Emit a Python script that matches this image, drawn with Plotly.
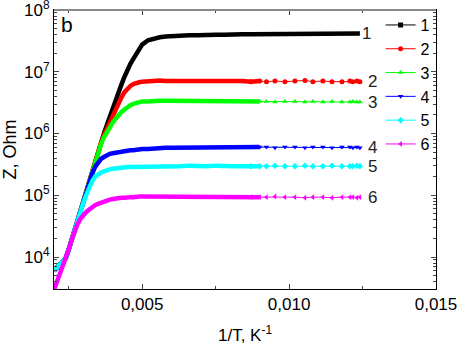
import numpy as np
import plotly.graph_objects as go

# 1/T values (K^-1), shared by all series
inv_T = [0.0020, 0.0021, 0.0022, 0.0023, 0.0024, 0.0025, 0.0026, 0.0027, 0.0028, 0.0029,
         0.0030, 0.0031, 0.0032, 0.0033, 0.0034, 0.0035, 0.0036, 0.0037, 0.0038, 0.0039,
         0.0040, 0.0041, 0.0042, 0.0043, 0.0044, 0.0045, 0.0046, 0.0047, 0.0048, 0.0049,
         0.0050, 0.0052, 0.0054, 0.0056, 0.0058, 0.0060,
         0.0063, 0.0066, 0.0069, 0.0072, 0.0075, 0.0078, 0.0081, 0.0084, 0.0087, 0.0090,
         0.00923, 0.00952, 0.00986, 0.0102, 0.01054, 0.01081, 0.01115, 0.01146, 0.0118,
         0.01207, 0.01217, 0.01231, 0.01241]

z1 = [6.03e3, 6.92e3, 7.59e3, 8.51e3, 9.55e3, 1.32e4, 1.91e4, 2.75e4, 3.98e4, 5.75e4,
      8.51e4, 1.23e5, 1.78e5, 2.57e5, 3.72e5, 5.25e5, 7.24e5, 1.0e6, 1.38e6, 1.91e6,
      2.63e6, 3.55e6, 4.68e6, 6.31e6, 8.32e6, 1.10e7, 1.35e7, 1.62e7, 1.95e7, 2.34e7,
      2.75e7, 3.24e7, 3.47e7, 3.63e7, 3.72e7, 3.80e7,
      3.80e7, 3.89e7, 3.89e7, 3.98e7, 3.98e7, 3.98e7, 4.07e7, 4.07e7, 4.07e7, 4.07e7,
      4.07e7, 4.12e7, 4.07e7, 4.10e7, 4.15e7, 4.12e7, 4.17e7, 4.15e7, 4.17e7,
      4.17e7, 4.20e7, 4.17e7, 4.17e7]

z2 = [6.03e3, 6.92e3, 7.59e3, 8.51e3, 9.55e3, 1.32e4, 1.91e4, 2.75e4, 3.98e4, 5.75e4,
      8.51e4, 1.23e5, 1.78e5, 2.57e5, 3.72e5, 5.25e5, 7.08e5, 9.33e5, 1.20e6, 1.55e6,
      1.95e6, 2.45e6, 3.16e6, 3.89e6, 4.68e6, 5.37e6, 5.89e6, 6.31e6, 6.61e6, 6.76e6,
      6.92e6, 7.08e6, 7.08e6, 7.24e6, 7.08e6, 7.08e6,
      7.08e6, 7.24e6, 7.08e6, 7.08e6, 7.24e6, 7.08e6, 7.08e6, 7.08e6, 6.92e6, 7.08e6,
      6.92e6, 7.08e6, 6.92e6, 7.08e6, 7.24e6, 6.92e6, 7.08e6, 6.92e6, 6.92e6,
      7.08e6, 6.92e6, 7.08e6, 6.92e6]

z3 = [6.03e3, 6.92e3, 7.59e3, 8.51e3, 9.55e3, 1.32e4, 1.91e4, 2.75e4, 3.98e4, 5.75e4,
      8.51e4, 1.23e5, 1.78e5, 2.57e5, 3.72e5, 5.25e5, 6.76e5, 8.71e5, 1.07e6, 1.29e6,
      1.51e6, 1.74e6, 2.00e6, 2.24e6, 2.45e6, 2.69e6, 2.88e6, 3.02e6, 3.16e6, 3.24e6,
      3.31e6, 3.31e6, 3.39e6, 3.39e6, 3.39e6, 3.39e6,
      3.39e6, 3.39e6, 3.31e6, 3.39e6, 3.39e6, 3.31e6, 3.31e6, 3.39e6, 3.31e6, 3.31e6,
      3.31e6, 3.24e6, 3.31e6, 3.31e6, 3.24e6, 3.31e6, 3.24e6, 3.31e6, 3.24e6,
      3.24e6, 3.31e6, 3.24e6, 3.24e6]

z4 = [6.03e3, 6.92e3, 7.59e3, 8.51e3, 9.55e3, 1.32e4, 1.91e4, 2.75e4, 3.98e4, 5.75e4,
      8.51e4, 1.20e5, 1.66e5, 2.24e5, 2.88e5, 3.47e5, 3.89e5, 4.17e5, 4.47e5, 4.68e5,
      4.79e5, 4.90e5, 5.01e5, 5.13e5, 5.25e5, 5.25e5, 5.37e5, 5.37e5, 5.50e5, 5.50e5,
      5.62e5, 5.62e5, 5.75e5, 5.75e5, 5.89e5, 5.89e5,
      5.89e5, 6.03e5, 6.03e5, 6.03e5, 6.03e5, 6.03e5, 6.03e5, 6.03e5, 6.03e5, 6.03e5,
      6.03e5, 5.89e5, 6.03e5, 6.03e5, 5.89e5, 6.03e5, 6.03e5, 5.89e5, 6.03e5,
      6.03e5, 5.89e5, 6.03e5, 5.89e5]

z5 = [6.03e3, 6.92e3, 7.59e3, 8.51e3, 9.55e3, 1.32e4, 1.91e4, 2.75e4, 3.89e4, 5.50e4,
      7.59e4, 1.02e5, 1.35e5, 1.70e5, 2.00e5, 2.19e5, 2.34e5, 2.45e5, 2.57e5, 2.63e5,
      2.69e5, 2.75e5, 2.75e5, 2.82e5, 2.82e5, 2.88e5, 2.88e5, 2.88e5, 2.95e5, 2.95e5,
      2.95e5, 2.95e5, 2.95e5, 2.95e5, 2.95e5, 2.95e5,
      2.95e5, 3.02e5, 2.95e5, 2.95e5, 3.02e5, 2.95e5, 2.95e5, 2.95e5, 2.95e5, 2.95e5,
      2.95e5, 3.02e5, 2.95e5, 2.95e5, 3.02e5, 2.95e5, 2.95e5, 3.02e5, 2.95e5,
      2.95e5, 2.95e5, 3.02e5, 2.95e5]

z6 = [2.95e3, 3.98e3, 5.25e3, 6.76e3, 8.91e3, 1.32e4, 1.91e4, 2.63e4, 3.39e4, 4.17e4,
      4.79e4, 5.37e4, 5.89e4, 6.46e4, 6.92e4, 7.24e4, 7.59e4, 7.94e4, 8.32e4, 8.51e4,
      8.71e4, 8.91e4, 8.91e4, 9.12e4, 9.12e4, 9.33e4, 9.33e4, 9.33e4, 9.55e4, 9.55e4,
      9.55e4, 9.55e4, 9.55e4, 9.55e4, 9.55e4, 9.55e4,
      9.55e4, 9.55e4, 9.33e4, 9.33e4, 9.33e4, 9.33e4, 9.33e4, 9.33e4, 9.33e4, 9.33e4,
      9.33e4, 9.55e4, 9.33e4, 9.33e4, 9.12e4, 9.33e4, 9.33e4, 9.12e4, 9.33e4,
      9.33e4, 9.33e4, 9.12e4, 9.33e4]

names = ["1", "2", "3", "4", "5", "6"]
series = [z1, z2, z3, z4, z5, z6]
colors = ["#000000", "#FF0000", "#00FF00", "#0000FF", "#00FFFF", "#FF00FF"]
symbols = ["square", "circle", "triangle-up", "triangle-down", "diamond", "triangle-left"]

x_ticks = [0.005, 0.010, 0.015]
x_ticktext = ["0,005", "0,010", "0,015"]
y_ticks = [1e4, 1e5, 1e6, 1e7, 1e8]
y_ticktext = ["10<sup>4</sup>", "10<sup>5</sup>", "10<sup>6</sup>", "10<sup>7</sup>", "10<sup>8</sup>"]

FONT = "Liberation Sans, Arial, sans-serif"
DENSE_END = 46   # points drawn as a thick (dense) band
TAIL_START = 44  # points drawn with separate markers

fig = go.Figure()
for name, z, c, s in zip(names, series, colors, symbols):
    black = name == "1"
    end = len(inv_T) if black else DENSE_END
    fig.add_trace(go.Scatter(x=inv_T[:end], y=z[:end], mode="lines",
                             line=dict(color=c, width=4.5), showlegend=False,
                             hoverinfo="skip"))
    if black:
        fig.add_trace(go.Scatter(x=[None], y=[None], mode="lines+markers",
                                 line=dict(color=c, width=1),
                                 marker=dict(symbol=s, size=5, color=c), name=name))
    else:
        fig.add_trace(go.Scatter(x=inv_T[TAIL_START:], y=z[TAIL_START:], mode="lines+markers",
                                 line=dict(color=c, width=1),
                                 marker=dict(symbol=s, size=5, color=c),
                                 name=name))

# end labels
for name, z in zip(names, series):
    xl = inv_T[-1] + (0.00002 if name == "1" else 0.00022)
    fig.add_annotation(x=xl, y=np.log10(z[-1]), text=name, showarrow=False,
                       xanchor="left", yanchor="middle", font=dict(size=17, color="#222"))

fig.add_annotation(x=0.012, y=0.995, xref="paper", yref="paper", text="b", showarrow=False,
                   xanchor="left", yanchor="top", font=dict(size=21, color="black"))

fig.add_shape(type="line", xref="paper", yref="paper", x0=0, x1=1, y0=1, y1=1,
              line=dict(color="#888888", width=2))

fig.update_layout(
    width=458, height=345,
    margin=dict(l=54, r=22, t=10, b=56, autoexpand=False),
    paper_bgcolor="white", plot_bgcolor="white",
    font=dict(family=FONT, size=17, color="black"),
    legend=dict(x=0.855, y=1.007, xanchor="left", yanchor="top",
                bgcolor="rgba(0,0,0,0)", font=dict(size=16), tracegroupgap=0),
    showlegend=True,
)
fig.update_xaxes(range=[0.002, 0.015], tickvals=x_ticks, ticktext=x_ticktext,
                 ticks="inside", ticklen=5, showline=True, linecolor="black", linewidth=1,
                 mirror="ticks", showgrid=False, zeroline=False, automargin=False,
                 ticklabeloverflow="allow",
                 minor=dict(ticks="inside", ticklen=3, tickmode="linear", tick0=0, dtick=0.0025),
                 title=dict(text="1/T, K<sup>-1</sup>", standoff=16, font=dict(size=17)))
fig.update_yaxes(type="log", range=[3.482, 8.0005], tickvals=y_ticks, ticktext=y_ticktext,
                 ticks="inside", ticklen=5, showline=True, linecolor="black", linewidth=1,
                 mirror="ticks", showgrid=False, zeroline=False, automargin=False,
                 ticklabeloverflow="allow",
                 minor=dict(ticks="inside", ticklen=3, dtick="D1"),
                 title=dict(text="Z, Ohm", standoff=4, font=dict(size=18)))

fig.write_html("out.html", config={"displayModeBar": False},
               post_script="document.body.style.margin='0';document.body.style.padding='0';")
